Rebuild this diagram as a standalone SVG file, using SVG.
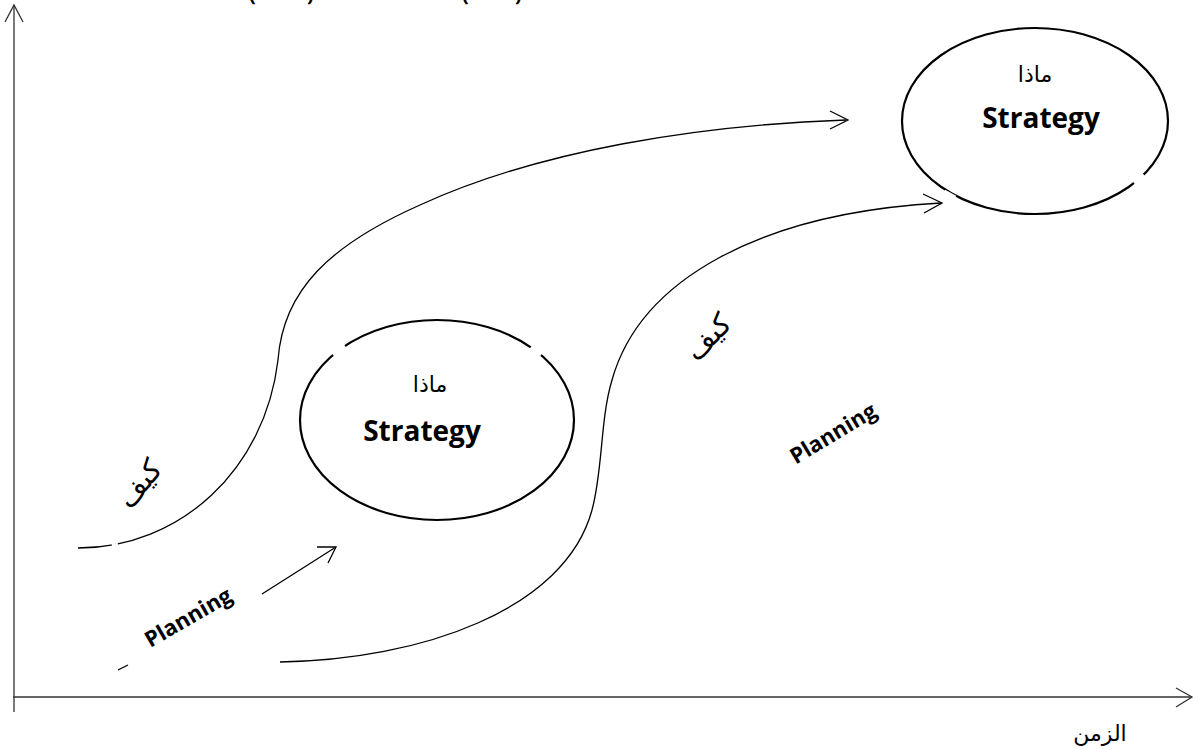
<svg xmlns="http://www.w3.org/2000/svg" width="1198" height="749" viewBox="0 0 1198 749">
<style>
.ax{stroke:#333;stroke-width:1.3;fill:none}
.cv{stroke:#000;stroke-width:1.3;fill:none}
.el{stroke:#000;stroke-width:2.2;fill:none}
.gap{stroke:#fff;stroke-width:5;fill:none}
.ar{font-family:"DejaVu Sans","Noto Sans",sans-serif;font-size:22px;fill:#000}
.kf{font-family:"DejaVu Sans","Noto Sans",sans-serif;font-size:29px;fill:#000}
.en{font-family:"Open Sans","Liberation Sans",sans-serif;font-weight:bold;fill:#000}
</style>
<rect width="1198" height="749" fill="#fff"/>
<g id="top-cut">
<text class="en" font-size="20" x="249" y="1">(</text>
<text class="en" font-size="20" x="307" y="1">)</text>
<text class="en" font-size="20" x="462" y="1">(</text>
<text class="en" font-size="20" x="515" y="1">)</text>
</g>
<g id="axes">
<path class="ax" d="M14,5 V712"/>
<path class="ax" d="M5,22 L14,5 L23,22"/>
<path class="ax" d="M13,697 H1192"/>
<path class="ax" d="M1176,688 L1192,697 L1176,707"/>
<text class="ar" x="1100" y="741" text-anchor="middle">الزمن</text>
</g>
<g id="connectors">
<path class="cv" d="M78,548 C180,548 265,470 278,360 C283,290 330,245 420,205 C540,150 700,125 846,120"/>
<path class="cv" d="M830,111 L848,120 L830,129"/>
<path class="cv" d="M280,662 C420,660 565,610 592,510 C603,470 600,420 612,380 C640,280 760,213 941,203"/>
<path class="cv" d="M923,194 L942,203 L924,213"/>
<path class="cv" d="M262,594 L336,547"/>
<path class="cv" d="M317,547 L336,547 L328,563"/>
<path class="cv" d="M118,670 L128,665"/>
<path class="gap" d="M112,546 L118,545" stroke-width="4"/>
</g>
<g id="node-strategy-small">
<ellipse class="el" cx="437" cy="420" rx="137" ry="100"/>
<path class="gap" d="M333,355 L345,346"/>
<path class="gap" d="M531,347 L541,355"/>
<text class="ar" x="430" y="392" text-anchor="middle">ماذا</text>
<text class="en" font-size="28" x="422" y="441" text-anchor="middle">Strategy</text>
</g>
<g id="node-strategy-big">
<ellipse class="el" cx="1035" cy="121" rx="133" ry="93"/>
<path class="gap" d="M944,192 L955,198"/>
<path class="gap" d="M1134,183 L1144,175"/>
<text class="ar" x="1035" y="82" text-anchor="middle">ماذا</text>
<text class="en" font-size="28" x="1041" y="128" text-anchor="middle">Strategy</text>
</g>
<g id="labels">
<text class="kf" transform="translate(147,490) rotate(-50)" text-anchor="middle">كيف</text>
<text class="kf" transform="translate(715,344) rotate(-45)" text-anchor="middle">كيف</text>
<text class="en" font-size="22" transform="translate(192,624) rotate(-30)" text-anchor="middle">Planning</text>
<text class="en" font-size="22" transform="translate(837,440) rotate(-31)" text-anchor="middle">Planning</text>
</g>
</svg>
